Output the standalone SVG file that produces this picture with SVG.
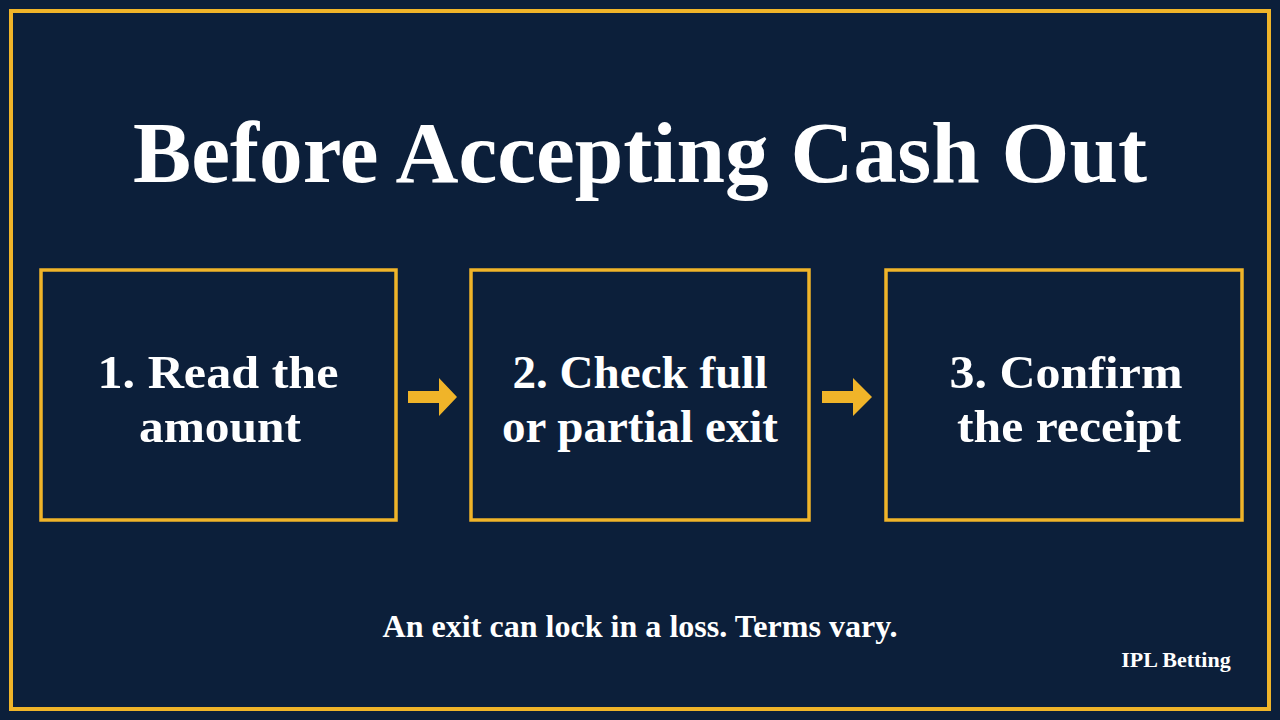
<svg xmlns="http://www.w3.org/2000/svg" width="1280" height="720" viewBox="0 0 1280 720">
<style>
.t{font-family:"Liberation Serif","Times New Roman",serif;font-weight:bold;fill:#ffffff;text-anchor:middle}
.b{font-size:47px}
.box{fill:none;stroke:#f0b429;stroke-width:3.5}
.arr{fill:#f0b429}
</style>
<rect x="0" y="0" width="1280" height="720" fill="#0c1f3a"/>
<rect x="11" y="11" width="1258" height="698" fill="none" stroke="#f0b429" stroke-width="4"/>
<text class="t" x="640" y="182" font-size="87" textLength="1014" lengthAdjust="spacingAndGlyphs">Before Accepting Cash Out</text>
<g id="node1">
<rect class="box" x="41" y="270" width="355" height="250"/>
<text class="t b" x="218" y="388" textLength="241" lengthAdjust="spacingAndGlyphs">1. Read the</text>
<text class="t b" x="220" y="442" textLength="162" lengthAdjust="spacingAndGlyphs">amount</text>
</g>
<g id="node2">
<rect class="box" x="471" y="270" width="338" height="250"/>
<text class="t b" x="640" y="388" textLength="255" lengthAdjust="spacingAndGlyphs">2. Check full</text>
<text class="t b" x="640" y="442" textLength="276" lengthAdjust="spacingAndGlyphs">or partial exit</text>
</g>
<g id="node3">
<rect class="box" x="886" y="270" width="356" height="250"/>
<text class="t b" x="1066" y="388" textLength="233" lengthAdjust="spacingAndGlyphs">3. Confirm</text>
<text class="t b" x="1069" y="442" textLength="224" lengthAdjust="spacingAndGlyphs">the receipt</text>
</g>
<g id="connectors">
<polygon class="arr" points="408,391 439,391 439,378 457,397 439,416 439,403 408,403"/>
<polygon class="arr" points="822,391 853,391 853,378 872,397 853,416 853,403 822,403"/>
</g>
<text class="t" x="640" y="637" font-size="31" textLength="515" lengthAdjust="spacingAndGlyphs">An exit can lock in a loss. Terms vary.</text>
<text class="t" x="1176" y="667" font-size="22">IPL Betting</text>
</svg>
